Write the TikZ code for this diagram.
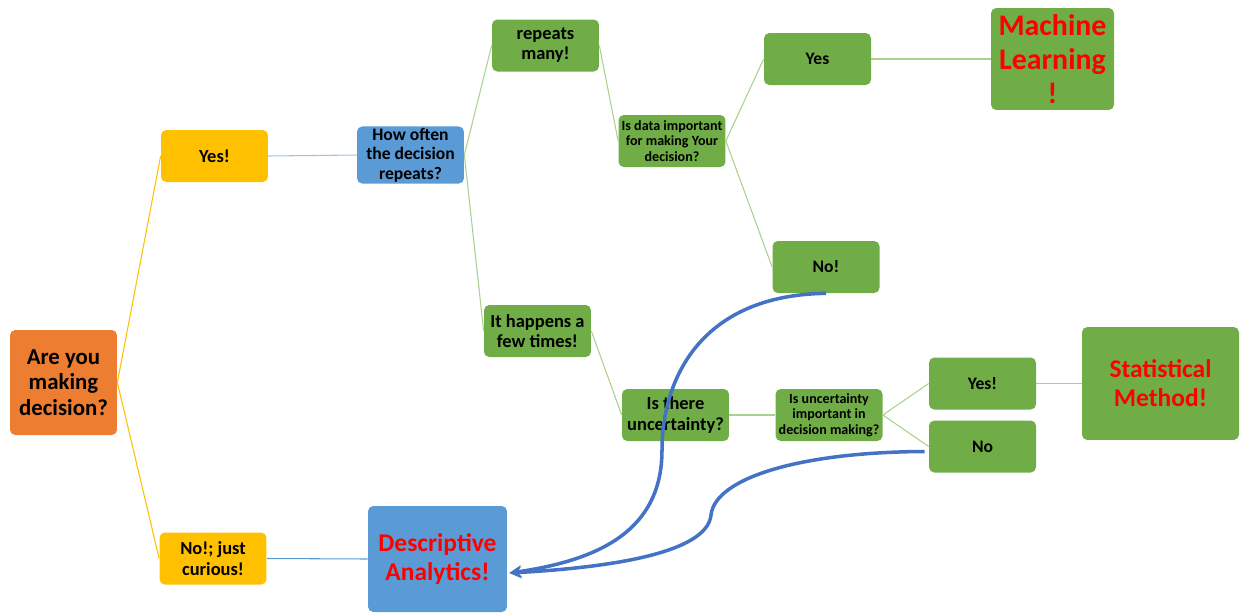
\documentclass[tikz,border=0pt]{standalone}
\usepackage{fontspec}
\setmainfont{Carlito}
\usetikzlibrary{calc}
\definecolor{orng}{HTML}{ED7D31}
\definecolor{gold}{HTML}{FFC000}
\definecolor{bblue}{HTML}{5B9BD5}
\definecolor{lblue}{HTML}{9DC3E6}
\definecolor{ggreen}{HTML}{70AD47}
\definecolor{lgreen}{HTML}{A9D18E}
\definecolor{ablue}{HTML}{4472C4}
\tikzset{
  box/.style={rounded corners=3pt,align=center,inner sep=1pt,
    minimum width=2.14cm,minimum height=1.04cm,
    font=\bfseries\fontsize{10.5}{11.5}\selectfont},
  small/.style={font=\bfseries\fontsize{8}{8.8}\selectfont},
  result/.style={text=red,font=\bfseries\fontsize{14.5}{16.5}\selectfont},
  yline/.style={gold,line width=0.6pt},
  bline/.style={lblue,line width=0.6pt},
  gline/.style={lgreen,line width=0.6pt},
  back/.style={ablue,line width=2pt,->}
}
\begin{document}
\begin{tikzpicture}[x=0.02cm,y=-0.02cm,>=stealth]
 \useasboundingbox (0,0) rectangle (1244,613);
 % first question
 \node[box,fill=orng,minimum height=2.1cm,font=\bfseries\fontsize{13}{14.5}\selectfont]
   (decide) at (63.5,382.5) {Are you\\making\\decision?};
 \node[box,fill=gold] (yes1) at (214.5,156) {Yes!};
 \node[box,fill=gold] (nocur) at (213,558.5) {No!; just\\curious!};
 \node[box,fill=bblue,font=\bfseries\fontsize{10}{11}\selectfont]
   (often) at (410.5,155) {How often\\the decision\\repeats?};
 \node[box,fill=bblue,result,minimum width=2.78cm,minimum height=2.12cm]
   (descr) at (437.5,559) {Descriptive\\Analytics!};
 % repeats many
 \node[box,fill=ggreen] (many) at (545.5,45.5) {repeats\\many!};
 \node[box,fill=ggreen,small] (dataimp) at (672,141) {Is data important\\for making Your\\decision?};
 \node[box,fill=ggreen,font=\bfseries\fontsize{10}{11}\selectfont] (yes2) at (817.5,59) {Yes};
 \node[box,fill=ggreen,text=red,minimum width=2.46cm,minimum height=2.04cm,
   font=\bfseries\fontsize{17}{19.5}\selectfont] (ml) at (1052.5,59) {Machine\\Learning\\!};
 \node[box,fill=ggreen,font=\bfseries\fontsize{10}{11}\selectfont] (no2) at (826,267) {No!};
 % few times
 \node[box,fill=ggreen] (few) at (537.5,331) {It happens a\\few times!};
 \node[box,fill=ggreen] (uncert) at (675.5,415) {Is there\\uncertainty?};
 \node[box,fill=ggreen,small] (uncimp) at (829,415) {Is uncertainty\\important in\\decision making?};
 \node[box,fill=ggreen,font=\bfseries\fontsize{10}{11}\selectfont] (yes3) at (982.5,383.5) {Yes!};
 \node[box,fill=ggreen,font=\bfseries\fontsize{10}{11}\selectfont] (no3) at (982.5,446.5) {No};
 \node[box,fill=ggreen,result,minimum width=3.14cm,minimum height=2.26cm]
   (stat) at (1160.5,383.5) {Statistical\\Method!};
 % branches
 \draw[yline] (decide.east) -- (yes1.west);
 \draw[yline] (decide.east) -- (nocur.west);
 \draw[bline] (yes1.east) -- (often.west);
 \draw[bblue,line width=0.6pt] (nocur.east) -- (descr.west);
 \draw[gline] (often.east) -- (many.west);
 \draw[gline] (often.east) -- (few.west);
 \draw[gline] (many.east) -- (dataimp.west);
 \draw[gline] (dataimp.east) -- (yes2.west);
 \draw[gline] (dataimp.east) -- (no2.west);
 \draw[gline] (yes2.east) -- (ml.west);
 \draw[gline] (few.east) -- (uncert.west);
 \draw[gline] (uncert.east) -- (uncimp.west);
 \draw[gline] (uncimp.east) -- (yes3.west);
 \draw[gline] (uncimp.east) -- (no3.west);
 \draw[gline] (yes3.east) -- (stat.west);
 % back to descriptive
 \coordinate (tip) at ($(descr.east)+(2,14)$);
 \draw[back] (no2.south) .. controls (700,295) and (662,380) .. (662,450)
   .. controls (662,530) and (600,560) .. (tip);
 \draw[back] ($(no3.west)+(-4,5)$) .. controls (800,452) and (715,478) .. (711,515)
   .. controls (707,555) and (600,568) .. (tip);
\end{tikzpicture}
\end{document}
